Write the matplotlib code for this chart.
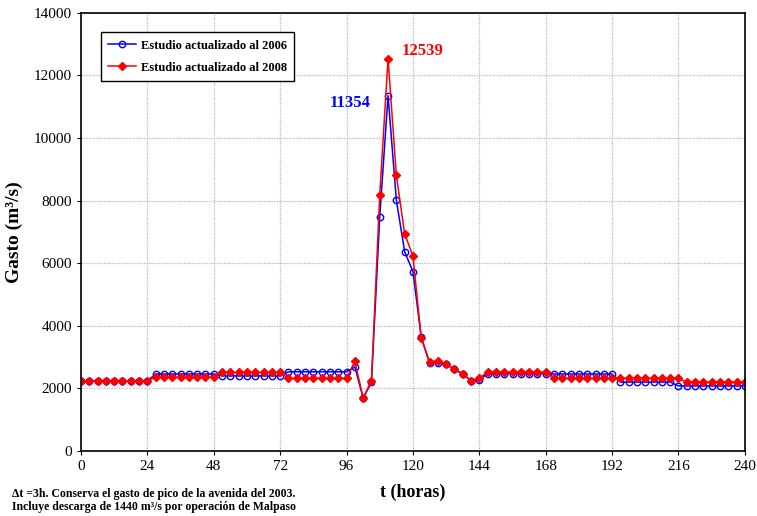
import matplotlib
matplotlib.use("Agg")
import matplotlib.pyplot as plt
import numpy as np

t = list(range(0, 241, 3))

q2006 = ([2240] * 9 +            # 0-24
         [2460] * 8 +            # 27-48
         [2400] * 8 +            # 51-72
         [2530] * 8 +            # 75-96
         [2690, 1690, 2190, 7490, 11354, 8020, 6370, 5730, 3630,
          2800, 2820, 2770, 2610, 2460, 2240, 2280] +   # 99-144
         [2470] * 8 +            # 147-168
         [2460] * 8 +            # 171-192
         [2200] * 7 +            # 195-213
         [2080] * 9)             # 216-240

q2008 = ([2240] * 9 +
         [2360] * 8 +
         [2510] * 8 +
         [2320] * 8 +
         [2860, 1700, 2240, 8190, 12539, 8810, 6940, 6230, 3620,
          2850, 2880, 2780, 2610, 2470, 2250, 2330] +
         [2520] * 8 +
         [2320] * 8 +
         [2320] * 8 +            # 195-216
         [2200] * 8)             # 219-240

label2006 = "Estudio actualizado al 2006"
label2008 = "Estudio actualizado al 2008"
xticks = list(range(0, 241, 24))
yticks = list(range(0, 14001, 2000))

plt.rcParams['font.family'] = ['Liberation Serif', 'DejaVu Serif']

fig = plt.figure(figsize=(7.57, 5.16), dpi=100)
ax = fig.add_axes([0.107, 0.126, 0.877, 0.849])

ax.plot(t, q2006, color='blue', lw=1.1, marker='o', ms=4.6, mfc='none',
        mec='blue', mew=1.0, label=label2006)
ax.plot(t, q2008, color='red', lw=1.1, marker='D', ms=3.6, mfc='red',
        mec='red', label=label2008)

ax.set_xlim(0, 240)
ax.set_ylim(0, 14000)
ax.set_xticks(xticks)
ax.set_yticks(yticks)
ax.tick_params(labelsize=11, direction='out', length=3)
ax.grid(True, color='#b8b8b8', linestyle=(0, (1, 1)), lw=0.9)
for s in ax.spines.values():
    s.set_linewidth(1.2)

ax.set_xlabel("t (horas)", fontsize=13, fontweight='bold', labelpad=8)
ax.set_ylabel("Gasto (m\u00b3/s)", fontsize=14, fontweight='bold', labelpad=8)

ax.text(97.3, 11000, "11354", color='blue', fontsize=12, fontweight='bold', ha='center')
ax.text(123.3, 12650, "12539", color='red', fontsize=12, fontweight='bold', ha='center')

leg = ax.legend(loc='upper left', bbox_to_anchor=(0.02, 0.97),
                prop={'weight': 'bold', 'size': 9}, fancybox=False,
                edgecolor='black', framealpha=1, handlelength=2.2,
                handletextpad=0.4, borderpad=0.6, labelspacing=0.8)
leg.get_frame().set_linewidth(1.0)

fig.text(0.016, 0.036, "\u0394t =3h. Conserva el gasto de pico de la avenida del 2003.",
         fontsize=8.5, fontweight='bold')
fig.text(0.016, 0.011, "Incluye descarga de 1440 m\u00b3/s por operación de Malpaso",
         fontsize=8.5, fontweight='bold')

fig.savefig("out.png", dpi=100)
